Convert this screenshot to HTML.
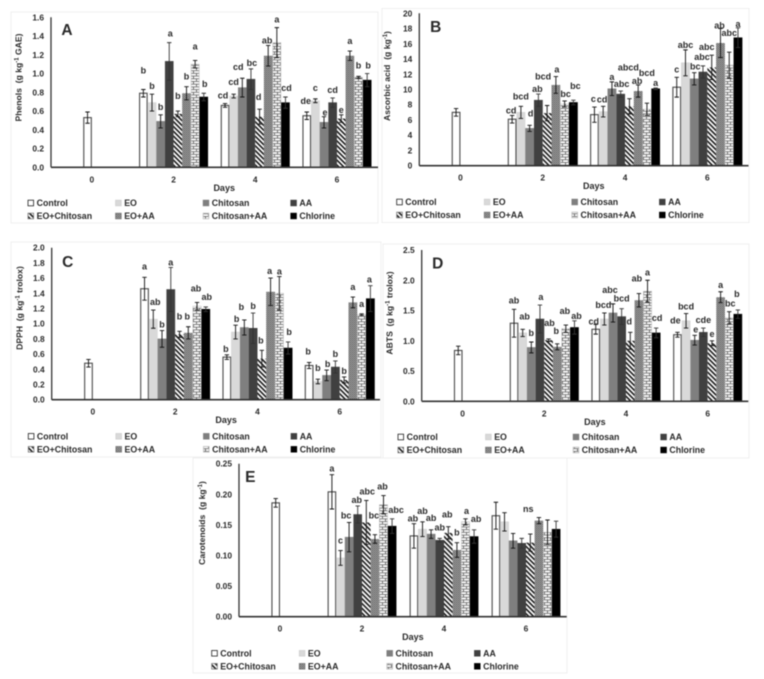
<!DOCTYPE html>
<html lang="en">
<head>
<meta charset="utf-8">
<title>Five-panel bar charts</title>
<style>
html,body{margin:0;padding:0;background:#fff;width:764px;height:679px;overflow:hidden}
svg{display:block;filter:blur(0.4px)}
text{font-family:"Liberation Sans",Arial,sans-serif;font-weight:bold;fill:#2a2a2a;white-space:pre}
</style>
</head>
<body>
<svg id="figure" width="764" height="679" viewBox="0 0 764 679" xmlns="http://www.w3.org/2000/svg">
<defs>
<pattern id="p-diag" patternUnits="userSpaceOnUse" width="3.4" height="3.4" patternTransform="rotate(45)">
<rect width="3.4" height="3.4" fill="#fff"/><rect width="3.4" height="1.6" fill="#1a1a1a"/>
</pattern>
<pattern id="p-dots" patternUnits="userSpaceOnUse" width="2" height="2">
<rect width="2" height="2" fill="#a8a8a8"/><rect width="1" height="1" fill="#5a5a5a"/><rect x="1" y="1" width="1" height="1" fill="#6a6a6a"/>
</pattern>
<pattern id="p-brick" patternUnits="userSpaceOnUse" width="6" height="5.4">
<rect width="6" height="5.4" fill="#fff"/>
<path d="M0 .5H6M0 3.2H6M1.5 .5V3.2M4.5 3.2V5.9" stroke="#555" stroke-width="0.8" fill="none"/>
</pattern>
</defs>
</svg>
<script>
const days = ['0', '2', '4', '6'];
const treatments = ['Control', 'EO', 'Chitosan', 'AA', 'EO+Chitosan', 'EO+AA', 'Chitosan+AA', 'Chlorine'];

const phenolsTicks = ['0.0', '0.2', '0.4', '0.6', '0.8', '1.0', '1.2', '1.4', '1.6'];
const phenolsDay0 = [0.53];
const phenolsDay2 = [0.79, 0.69, 0.49, 1.13, 0.57, 0.79, 1.10, 0.75];
const phenolsDay4 = [0.66, 0.76, 0.85, 0.94, 0.54, 1.19, 1.33, 0.69];
const phenolsDay6 = [0.55, 0.71, 0.48, 0.69, 0.52, 1.19, 0.96, 0.93];
const phenolsErr0 = [0.06];
const phenolsErr2 = [0.04, 0.09, 0.07, 0.20, 0.03, 0.07, 0.04, 0.04];
const phenolsErr4 = [0.02, 0.02, 0.10, 0.11, 0.08, 0.11, 0.16, 0.06];
const phenolsErr6 = [0.04, 0.02, 0.06, 0.05, 0.04, 0.05, 0.01, 0.07];
const phenolsLetters2 = ['b', 'b', 'b', 'a', 'b', 'b', 'a', 'b'];
const phenolsLetters4 = ['cd', 'cd', 'cd', 'bc', 'd', 'ab', 'a', 'cd'];
const phenolsLetters6 = ['de', 'c', 'e', 'cd', 'e', 'a', 'b', 'b'];

const ascorbicTicks = ['0', '2', '4', '6', '8', '10', '12', '14', '16', '18', '20'];
const ascorbicDay0 = [7.0];
const ascorbicDay2 = [6.1, 7.0, 4.9, 8.6, 6.9, 10.6, 8.1, 8.3];
const ascorbicDay4 = [6.7, 7.1, 10.1, 9.4, 7.8, 9.8, 7.4, 10.1];
const ascorbicDay6 = [10.3, 13.5, 11.4, 12.3, 12.9, 16.1, 13.2, 16.8];
const ascorbicErr0 = [0.5];
const ascorbicErr2 = [0.5, 0.8, 0.4, 0.8, 1.0, 1.1, 0.4, 0.3];
const ascorbicErr4 = [1.0, 0.7, 0.9, 0.4, 1.0, 0.8, 0.8, 0.1];
const ascorbicErr6 = [1.3, 1.7, 0.8, 0.8, 1.6, 1.9, 1.7, 1.3];
const ascorbicLetters2 = ['cd', 'bcd', 'd', 'ab', 'bcd', 'a', 'bc', 'bc'];
const ascorbicLetters4 = ['c', 'cd', 'a', 'abc', 'abcd', 'ab', 'bcd', 'a'];
const ascorbicLetters6 = ['c', 'abc', 'bc', 'abc', 'abc', 'ab', 'abc', 'a'];

const dpphTicks = ['0.0', '0.2', '0.4', '0.6', '0.8', '1.0', '1.2', '1.4', '1.6', '1.8', '2.0'];
const dpphDay0 = [0.48];
const dpphDay2 = [1.46, 1.06, 0.80, 1.45, 0.86, 0.88, 1.23, 1.19];
const dpphDay4 = [0.56, 0.89, 0.95, 0.94, 0.54, 1.42, 1.40, 0.68];
const dpphDay6 = [0.45, 0.24, 0.32, 0.43, 0.26, 1.28, 1.12, 1.33];
const dpphErr0 = [0.05];
const dpphErr2 = [0.15, 0.12, 0.11, 0.29, 0.04, 0.08, 0.05, 0.03];
const dpphErr4 = [0.03, 0.09, 0.10, 0.20, 0.11, 0.18, 0.22, 0.08];
const dpphErr6 = [0.04, 0.03, 0.07, 0.08, 0.04, 0.07, 0.01, 0.17];
const dpphLetters2 = ['a', 'ab', 'b', 'a', 'b', 'b', 'ab', 'ab'];
const dpphLetters4 = ['b', 'b', 'b', 'b', 'b', 'a', 'a', 'b'];
const dpphLetters6 = ['b', 'b', 'b', 'b', 'b', 'a', 'a', 'a'];

const abtsTicks = ['0.0', '0.5', '1.0', '1.5', '2.0', '2.5'];
const abtsDay0 = [0.84];
const abtsDay2 = [1.29, 1.13, 0.89, 1.36, 1.01, 0.90, 1.20, 1.22];
const abtsDay4 = [1.19, 1.36, 1.46, 1.40, 1.00, 1.67, 1.82, 1.13];
const abtsDay6 = [1.10, 1.33, 1.01, 1.14, 0.96, 1.72, 1.38, 1.44];
const abtsErr0 = [0.07];
const abtsErr2 = [0.23, 0.06, 0.09, 0.23, 0.02, 0.05, 0.06, 0.11];
const abtsErr4 = [0.08, 0.10, 0.15, 0.13, 0.14, 0.11, 0.18, 0.08];
const abtsErr6 = [0.04, 0.12, 0.08, 0.07, 0.04, 0.09, 0.10, 0.07];
const abtsLetters2 = ['ab', 'ab', 'b', 'a', 'ab', 'b', 'ab', 'ab'];
const abtsLetters4 = ['cd', 'bcd', 'abc', 'bcd', 'd', 'ab', 'a', 'cd'];
const abtsLetters6 = ['de', 'bcd', 'e', 'cde', 'e', 'a', 'bc', 'b'];

const carotTicks = ['0.00', '0.05', '0.10', '0.15', '0.20', '0.25'];
const carotDay0 = [0.186];
const carotDay2 = [0.204, 0.096, 0.130, 0.167, 0.154, 0.127, 0.183, 0.148];
const carotDay4 = [0.132, 0.143, 0.135, 0.125, 0.137, 0.109, 0.155, 0.131];
const carotDay6 = [0.165, 0.155, 0.124, 0.120, 0.121, 0.157, 0.138, 0.143];
const carotErr0 = [0.007];
const carotErr2 = [0.028, 0.012, 0.024, 0.014, 0.036, 0.007, 0.015, 0.012];
const carotErr4 = [0.020, 0.012, 0.007, 0.003, 0.010, 0.012, 0.005, 0.011];
const carotErr6 = [0.022, 0.015, 0.012, 0.008, 0.014, 0.005, 0.020, 0.013];
const carotLetters2 = ['a', 'c', 'bc', 'ab', 'abc', 'bc', 'ab', 'abc'];
const carotLetters4 = ['ab', 'ab', 'ab', 'ab', 'ab', 'b', 'a', 'ab'];
const carotLetters6 = ['', '', '', '', 'ns', '', '', ''];

const NS = 'http://www.w3.org/2000/svg';
const svg = document.getElementById('figure');

function node(tag, attrs, parent, name) {
  const el = document.createElementNS(NS, tag);
  for (const k in attrs) el.setAttribute(k, attrs[k]);
  
  
  parent.appendChild(el);
  return el;
}

const barStyles = [
  {fill: '#fff', stroke: '#4a4a4a', sw: 1.1},
  {fill: '#d9d9d9', stroke: '#d0d0d0', sw: 0.5},
  {fill: '#7f7f7f', stroke: '#7f7f7f', sw: 0.5},
  {fill: '#404040', stroke: '#404040', sw: 0.5},
  {fill: 'url(#p-diag)', stroke: 'none', sw: 0},
  {fill: 'url(#p-dots)', stroke: 'none', sw: 0},
  {fill: 'url(#p-brick)', stroke: '#bbb', sw: 0.5},
  {fill: '#000', stroke: '#000', sw: 0.5}
];

const panels = [
  {key: 'phenols', label: 'A', title: 'Phenols  (g kg', titleEnd: ' GAE)', sup: '-1',
   axisX: 51, xEnd: 378, y0: 167.3, yTop: 17.3, w: 81.7, slot: 8.63, max: 1.6,
   ticks: phenolsTicks, frame: [11, 12, 367, 211], titleX: 21.7, titleY: 77.5,
   badge: [67, 35], legend: [28, 203],
   means: [phenolsDay0, phenolsDay2, phenolsDay4, phenolsDay6],
   errs: [phenolsErr0, phenolsErr2, phenolsErr4, phenolsErr6],
   letters: [[], phenolsLetters2, phenolsLetters4, phenolsLetters6],
   lift: [[], [19,8,8,9,15,10,14,9], [8,12,11,6,12,5,8,9], [11,11,4,8,5,10,11,8]],
   shift: [[], [0,0,0,1,0,0,0,1], [-2,0,-4,1,-1,-1,0,1], [-1,0,1,0,0,0,0,1]]},
  {key: 'ascorbic', label: 'B', title: 'Ascorbic acid  (g kg', titleEnd: ')', sup: '-1',
   axisX: 419.3, xEnd: 748.5, y0: 165.7, yTop: 13.3, w: 82.3, slot: 8.75, max: 20,
   ticks: ascorbicTicks, frame: [382, 8.5, 367, 214], titleX: 390, titleY: 76,
   badge: [435.7, 32], legend: [396.7, 202],
   means: [ascorbicDay0, ascorbicDay2, ascorbicDay4, ascorbicDay6],
   errs: [ascorbicErr0, ascorbicErr2, ascorbicErr4, ascorbicErr6],
   letters: [[], ascorbicLetters2, ascorbicLetters4, ascorbicLetters6],
   lift: [[], [5,10,12,5,29,7,7,14], [8,7,5,7,31,4,30,5], [8,5,6,9,8,3,19,4]],
   shift: [[], [-1,0,1,-1,-4,1,1,2], [-1,-1,0,1,-1,-1,0,0], [0,0,1,-1,-5,-1,0,0]]},
  {key: 'dpph', label: 'C', title: 'DPPH  (g kg', titleEnd: ' trolox)', sup: '-1',
   axisX: 51.7, xEnd: 380, y0: 399.7, yTop: 247.7, w: 82.3, slot: 8.75, max: 2,
   ticks: dpphTicks, frame: [11, 242, 370, 215], titleX: 22.7, titleY: 308,
   badge: [67.7, 267], legend: [28.3, 436.3],
   means: [dpphDay0, dpphDay2, dpphDay4, dpphDay6],
   errs: [dpphErr0, dpphErr2, dpphErr4, dpphErr6],
   letters: [[], dpphLetters2, dpphLetters4, dpphLetters6],
   lift: [[], [11,8,6,5,15,10,14,10], [6,6,13,7,10,7,5,10], [11,11,6,7,6,10,10,6]],
   shift: [[], [0,2,0,0,0,-1,-1,1], [-1,1,-3,0,-1,-1,0,1], [-1,0,1,0,0,0,0,-1]]},
  {key: 'abts', label: 'D', title: 'ABTS  (g kg', titleEnd: ' trolox)', sup: '-1',
   axisX: 421.7, xEnd: 748.3, y0: 401.3, yTop: 250, w: 81.7, slot: 8.63, max: 2.5,
   ticks: abtsTicks, frame: [383, 244, 366, 214], titleX: 392.7, titleY: 313,
   badge: [437.7, 268.5], legend: [398, 437],
   means: [abtsDay0, abtsDay2, abtsDay4, abtsDay6],
   errs: [abtsErr0, abtsErr2, abtsErr4, abtsErr6],
   letters: [[], abtsLetters2, abtsLetters4, abtsLetters6],
   lift: [[], [9,13,9,8,16,13,14,5], [3,8,14,10,11,15,8,10], [12,7,6,8,7,7,8,16]],
   shift: [[], [0,2,0,1,1,-1,-1,2], [-2,-1,-3,0,-1,-2,0,1], [-2,0,1,0,0,0,1,-1]]},
  {key: 'carot', label: 'E', title: 'Carotenoids  (g kg', titleEnd: ')', sup: '-1',
   axisX: 239, xEnd: 566.7, y0: 616.7, yTop: 463.7, w: 82, slot: 8.6, max: 0.25,
   ticks: carotTicks, frame: [193, 458, 374, 215], titleX: 205, titleY: 523,
   badge: [250.3, 482], legend: [211.7, 653.3],
   means: [carotDay0, carotDay2, carotDay4, carotDay6],
   errs: [carotErr0, carotErr2, carotErr4, carotErr6],
   letters: [[], carotLetters2, carotLetters4, carotLetters6],
   lift: [[], [6,10,7,6,9,19,9,9], [5,11,12,11,12,10,8,11], [0,0,0,0,25,0,0,0]],
   shift: [[], [0,0,-3,-1,1,-1,-1,4], [-1,0,0,0,-1,0,1,2], [0,0,0,0,-2,0,0,0]]}
];

function drawPanel(p) {
  const g = node('g', {}, svg, 'panel-' + p.label.toLowerCase());
  const yScale = v => p.y0 - (v / p.max) * (p.y0 - p.yTop);
  const xCenter = k => p.axisX + p.w * (k + 0.5);
  const xSlot = (k, i) => xCenter(k) - 4 * p.slot + i * p.slot;

  node('rect', {x: p.frame[0], y: p.frame[1], width: p.frame[2], height: p.frame[3], fill: '#fff', stroke: '#efefef', 'stroke-width': 1}, g, 'chart-frame');

  // y tick labels
  p.ticks.forEach((t, i) => {
    const v = p.max * i / (p.ticks.length - 1);
    const el = node('text', {x: p.axisX - 7, y: yScale(v) + 3, 'text-anchor': 'end', 'font-size': 8.4}, g, 'y-tick-label');
    el.textContent = t;
  });

  // y-axis title
  const title = node('text', {transform: 'translate(' + p.titleX + ',' + p.titleY + ') rotate(-90)', 'text-anchor': 'middle', 'font-size': 8.6}, g, 'y-axis-title');
  const t1 = node('tspan', {}, title, 'y-axis-title-text');
  t1.textContent = p.title;
  const t2 = node('tspan', {dy: -3, 'font-size': 6}, title, 'y-axis-title-exponent');
  t2.textContent = p.sup;
  const t3 = node('tspan', {dy: 3}, title, 'y-axis-title-unit');
  t3.textContent = p.titleEnd;

  // bars, error bars
  p.means.forEach((series, k) => {
    series.forEach((v, n) => {
      const i = series.length === 1 ? 3 : n;
      const st = barStyles[n];
      const x = xSlot(k, i);
      const top = yScale(v);
      const inset = st.sw ? st.sw / 2 : 0;
      node('rect', {x: x + inset, y: top, width: p.slot - st.sw, height: p.y0 - top, fill: st.fill, stroke: st.stroke, 'stroke-width': st.sw}, g, 'bar-' + p.key + '-day' + days[k] + '-' + treatments[n].toLowerCase().replace('+', '-'));
    });
  });
  p.means.forEach((series, k) => {
    series.forEach((v, n) => {
      const i = series.length === 1 ? 3 : n;
      const cx = xSlot(k, i) + p.slot / 2;
      const e = p.errs[k][n];
      const hi = yScale(v + e), lo = yScale(v - e);
      const col = n === 7 || n === 3 ? '#333' : '#111';
      node('path', {d: 'M' + cx + ' ' + hi + 'V' + lo + 'M' + (cx - 2.2) + ' ' + hi + 'H' + (cx + 2.2) + 'M' + (cx - 2.2) + ' ' + lo + 'H' + (cx + 2.2), stroke: col, 'stroke-width': 0.9, fill: 'none'}, g, 'error-bar');
      const letter = (p.letters[k] || [])[n];
      if (letter) {
        const el = node('text', {x: cx + p.shift[k][n], y: hi - p.lift[k][n] + 3, 'text-anchor': 'middle', 'font-size': 9}, g, 'significance-letter');
        el.textContent = letter;
      }
    });
  });

  // axes
  node('line', {x1: p.axisX, x2: p.axisX, y1: p.yTop, y2: p.y0, stroke: '#333', 'stroke-width': 1.3}, g, 'y-axis');
  node('line', {x1: p.axisX, x2: p.xEnd, y1: p.y0, y2: p.y0, stroke: '#333', 'stroke-width': 1.6}, g, 'x-axis');

  // x tick labels
  days.forEach((d, k) => {
    const el = node('text', {x: xCenter(k), y: p.y0 + 15, 'text-anchor': 'middle', 'font-size': 8.4}, g, 'x-tick-label');
    el.textContent = d;
  });
  const xt = node('text', {x: xCenter(1) + p.w * 0.62, y: p.y0 + 23.5, 'text-anchor': 'middle', 'font-size': 9}, g, 'x-axis-title');
  xt.textContent = 'Days';

  // badge
  const b = node('text', {x: p.badge[0], y: p.badge[1], 'text-anchor': 'middle', 'font-size': 15.5, fill: '#111'}, g, 'panel-letter');
  b.textContent = p.label;

  // legend
  const colGap = 87.6, rowGap = 13;
  treatments.forEach((name, i) => {
    const col = i % 4, row = Math.floor(i / 4);
    const lx = p.legend[0] + col * colGap, ly = p.legend[1] + row * rowGap;
    const st = barStyles[i];
    const lg = node('g', {}, g, 'legend-entry');
    const edge = st.stroke === 'none' ? '#777' : st.stroke;
    node('rect', {x: lx, y: ly - 2.8, width: 5.6, height: 5.6, fill: st.fill, stroke: i === 0 ? '#222' : edge, 'stroke-width': 0.8}, lg, 'legend-swatch');
    const tx = node('text', {x: lx + 8.6, y: ly + 3.1, 'font-size': 8.8}, lg, 'legend-label');
    tx.textContent = name;
  });
}

panels.forEach(drawPanel);
</script>
</body>
</html>
